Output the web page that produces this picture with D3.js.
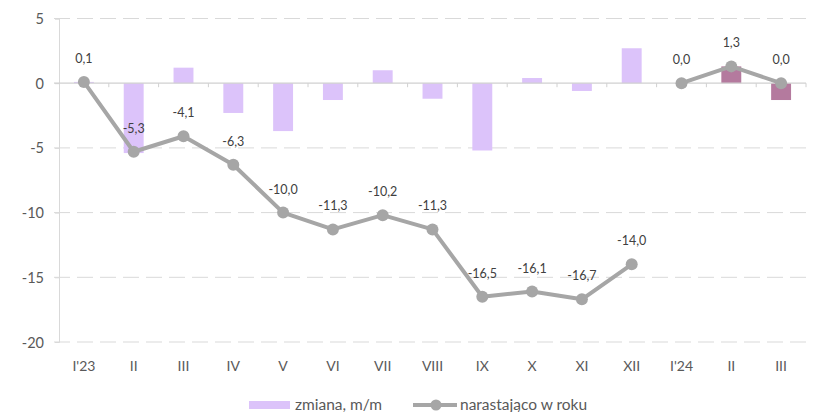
<!DOCTYPE html>
<html><head><meta charset="utf-8">
<script src="https://cdn.jsdelivr.net/npm/d3@7"></script>
<style>
body{margin:0;background:#fff;}
svg{display:block;font-family:Lato,"Open Sans",sans-serif;}
</style></head>
<body><svg id="c" width="813" height="412"></svg>
<script>
const categories = ["I'23","II","III","IV","V","VI","VII","VIII","IX","X","XI","XII","I'24","II","III"];
const changeMoM = [0.1,-5.4,1.2,-2.3,-3.7,-1.3,1.0,-1.2,-5.2,0.4,-0.6,2.7,0.0,1.3,-1.3];
const cumulative = [0.1,-5.3,-4.1,-6.3,-10.0,-11.3,-10.2,-11.3,-16.5,-16.1,-16.7,-14.0,0.0,1.3,0.0];
const segmentId = [0,0,0,0,0,0,0,0,0,0,0,0,1,1,1];
const highlight = [false,false,false,false,false,false,false,false,false,false,false,false,false,true,true];
const yTicks = [5,0,-5,-10,-15,-20];
const legendLabels = ["zmiana, m/m","narastająco w roku"];

(function(){
const svg = d3.select("#c");
const pL = 59, pR = 806, pT = 18.5, pB = 342;
const x = d3.scaleBand().domain(d3.range(categories.length)).range([pL,pR]);
const y = d3.scaleLinear().domain([-20,5]).range([pB,pT]);
const fmt = v => v.toFixed(1).replace(".",",");

// gridlines
svg.append("g").selectAll("line").data(yTicks.filter(t=>t!==0)).join("line")
  .attr("x1",pL-5).attr("x2",pR).attr("y1",d=>y(d)).attr("y2",d=>y(d))
  .attr("stroke","#d9d9d9").attr("stroke-width",1).attr("stroke-dasharray","16,7");

// y axis
const yAxis = svg.append("g").attr("transform",`translate(${pL},0)`)
  .call(d3.axisLeft(y).tickValues(yTicks).tickSize(4).tickFormat(d=>d));
yAxis.select(".domain").attr("stroke","#d9d9d9");
yAxis.selectAll(".tick line").attr("stroke","#d9d9d9");
yAxis.selectAll("text").attr("fill","#595959").style("font-size","14.5px")
  .style("font-family","Lato,'Open Sans',sans-serif").attr("x",-15).attr("dy","0.35em");

// bars
svg.append("g").selectAll("rect").data(changeMoM).join("rect")
  .attr("x",(d,i)=>x(i)+x.bandwidth()*0.3)
  .attr("width",x.bandwidth()*0.4)
  .attr("y",d=>y(Math.max(0,d)))
  .attr("height",d=>Math.abs(y(d)-y(0)))
  .attr("fill",(d,i)=>highlight[i]?"#b47a9e":"#dcc3fa");

// zero axis with ticks at band boundaries
const zg = svg.append("g").attr("transform",`translate(0,${y(0)})`);
zg.append("line").attr("x1",pL-5).attr("x2",pR).attr("stroke","#d0d0d0").attr("stroke-width",1.3);
zg.selectAll("line.t").data(d3.range(1,categories.length+1)).join("line").attr("class","t")
  .attr("x1",i=>x(i-1)+x.bandwidth()).attr("x2",i=>x(i-1)+x.bandwidth())
  .attr("y1",0).attr("y2",4).attr("stroke","#d0d0d0");

// x labels
svg.append("g").selectAll("text").data(categories).join("text")
  .attr("x",(d,i)=>x(i)+x.bandwidth()/2).attr("y",366).attr("dy","0.35em")
  .attr("text-anchor","middle").attr("fill","#595959").style("font-size","14px").text(d=>d);

// line
const pts = cumulative.map((v,i)=>({i,v,s:segmentId[i]}));
const line = d3.line().x(d=>x(d.i)+x.bandwidth()/2).y(d=>y(d.v));
d3.groups(pts,d=>d.s).forEach(([s,arr])=>{
  svg.append("path").datum(arr).attr("d",line).attr("fill","none")
    .attr("stroke","#a6a6a6").attr("stroke-width",4).attr("stroke-linejoin","round");
});
svg.append("g").selectAll("circle").data(pts).join("circle")
  .attr("cx",d=>x(d.i)+x.bandwidth()/2).attr("cy",d=>y(d.v)).attr("r",6).attr("fill","#a6a6a6");
svg.append("g").selectAll("text").data(pts).join("text")
  .attr("x",d=>x(d.i)+x.bandwidth()/2).attr("y",d=>y(d.v)-19)
  .attr("text-anchor","middle").attr("fill","#404040").style("font-size","12.5px").text(d=>fmt(d.v));

// legend
const lg = svg.append("g");
lg.append("rect").attr("x",249).attr("y",401).attr("width",41).attr("height",8).attr("fill","#dcc3fa");
lg.append("text").attr("x",295).attr("y",405).attr("dy","0.35em").attr("fill","#595959").style("font-size","15.5px").text(legendLabels[0]);
lg.append("line").attr("x1",413).attr("x2",457).attr("y1",405).attr("y2",405).attr("stroke","#a6a6a6").attr("stroke-width",4);
lg.append("circle").attr("cx",436).attr("cy",405).attr("r",5.5).attr("fill","#a6a6a6");
lg.append("text").attr("x",460).attr("y",405).attr("dy","0.35em").attr("fill","#595959").style("font-size","15.5px").text(legendLabels[1]);
})();
</script></body></html>
